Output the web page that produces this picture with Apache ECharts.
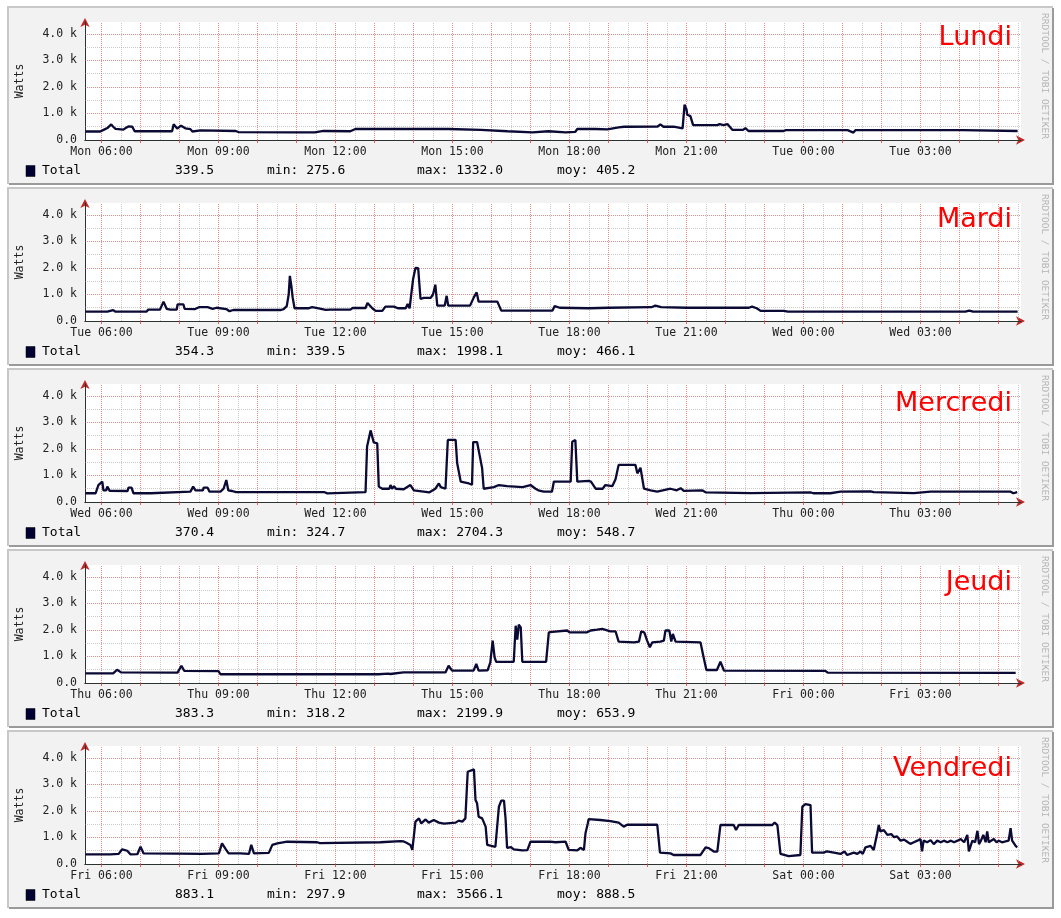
<!DOCTYPE html>
<html><head><meta charset="utf-8">
<script src="https://cdn.jsdelivr.net/npm/echarts@6/dist/echarts.min.js"></script>
<style>html,body{margin:0;padding:0;background:#fff}#c{width:1061px;height:918px}</style>
</head><body><div id="c"></div><script>
// ---------- DATA ----------
const dayTitles = ['Lundi', 'Mardi', 'Mercredi', 'Jeudi', 'Vendredi'];
const dayAbbr = [['Mon', 'Tue'], ['Tue', 'Wed'], ['Wed', 'Thu'], ['Thu', 'Fri'], ['Fri', 'Sat']];
const xLabelHours = [6, 9, 12, 15, 18, 21, 24, 27];
const xLabelTimes = ['06:00', '09:00', '12:00', '15:00', '18:00', '21:00', '00:00', '03:00'];
const yLabelValues = [0, 1000, 2000, 3000, 4000];
const yLabelTexts = ['0.0', '1.0 k', '2.0 k', '3.0 k', '4.0 k'];
const yMinorValues = [500, 1500, 2500, 3500];
const seriesName = 'Total';
const statsLast = ['339.5', '354.3', '370.4', '383.3', '883.1'];
const statsMin = ['275.6', '339.5', '324.7', '318.2', '297.9'];
const statsMax = ['1332.0', '1998.1', '2704.3', '2199.9', '3566.1'];
const statsMoy = ['405.2', '466.1', '548.7', '653.9', '888.5'];

// [hour of day (24+ = next day), watts]
const lundi = [[5.59,320],[5.97,320],[6.08,400],[6.15,450],[6.2,520],[6.25,590],[6.3,500],[6.36,420],[6.56,390],[6.62,450],[6.69,510],[6.79,500],[6.85,330],[7.81,330],[7.85,590],[7.94,430],[8.04,540],[8.15,440],[8.28,410],[8.33,320],[8.54,360],[9.44,340],[9.46,280],[9.51,300],[10.92,290],[10.95,278],[11.0,290],[11.41,290],[11.43,278],[11.47,290],[11.69,340],[12.38,330],[12.42,300],[12.51,415],[14.9,415],[14.95,385],[15.72,385],[15.75,330],[16.41,330],[16.45,285],[17.05,290],[17.1,330],[17.46,330],[17.5,285],[17.9,285],[17.95,300],[18.15,310],[18.2,415],[18.67,415],[18.7,390],[18.97,400],[19.26,480],[19.4,500],[19.45,460],[19.49,500],[20.26,510],[20.33,590],[20.41,500],[20.67,500],[20.72,440],[20.9,440],[20.95,1332],[21.0,1150],[21.02,950],[21.1,900],[21.17,560],[21.79,560],[21.85,600],[21.95,560],[22.05,600],[22.18,380],[22.45,380],[22.51,450],[22.59,340],[23.49,340],[23.55,370],[25.13,370],[25.28,280],[25.33,370],[28.08,370],[28.12,340],[29.49,340]];
const mardi = [[5.59,350],[6.15,350],[6.2,410],[6.3,410],[6.36,350],[7.15,350],[7.2,430],[7.5,430],[7.59,730],[7.67,460],[7.77,430],[7.93,430],[7.95,630],[8.1,630],[8.13,460],[8.4,450],[8.5,520],[8.72,520],[8.77,450],[8.85,460],[8.88,520],[8.95,500],[9.0,450],[9.2,450],[9.28,370],[9.38,415],[10.6,415],[10.67,450],[10.75,560],[10.8,1000],[10.83,1700],[10.87,1300],[10.9,900],[10.95,480],[11.3,480],[11.4,520],[11.6,470],[11.75,420],[11.79,390],[11.87,430],[12.38,430],[12.44,490],[12.77,490],[12.82,680],[12.95,470],[13.03,380],[13.2,380],[13.28,540],[13.5,540],[13.54,590],[13.6,480],[13.8,480],[13.85,640],[13.9,480],[13.95,1100],[13.99,1580],[14.05,1998],[14.12,1990],[14.18,830],[14.26,870],[14.44,870],[14.5,1000],[14.56,1370],[14.61,580],[14.8,580],[14.85,950],[14.89,580],[15.45,580],[15.55,900],[15.62,1080],[15.67,730],[16.15,730],[16.25,390],[17.56,390],[17.62,560],[17.75,500],[18.5,480],[19.0,500],[20.1,520],[20.2,580],[20.35,520],[21.0,500],[22.6,500],[22.68,540],[22.8,480],[22.9,380],[23.5,380],[23.6,350],[28.15,350],[28.25,390],[28.35,350],[29.49,354]];
const mercredi = [[5.59,330],[5.85,330],[5.92,640],[6.02,770],[6.05,440],[6.12,440],[6.15,580],[6.21,420],[6.67,415],[6.69,540],[6.77,540],[6.82,330],[7.26,330],[7.3,390],[8.28,390],[8.35,580],[8.41,440],[8.6,440],[8.62,540],[8.72,540],[8.77,390],[9.05,390],[9.13,500],[9.2,830],[9.25,440],[9.35,415],[9.45,370],[11.62,370],[11.67,325],[11.72,370],[11.79,325],[11.84,370],[12.77,370],[12.81,2090],[12.9,2700],[12.98,2250],[13.07,2210],[13.11,580],[13.2,500],[13.38,500],[13.41,640],[13.45,500],[13.5,600],[13.55,500],[13.75,480],[13.92,640],[14.01,440],[14.26,390],[14.4,360],[14.56,500],[14.65,700],[14.7,560],[14.82,500],[14.88,2340],[15.08,2340],[15.12,1460],[15.21,770],[15.42,700],[15.5,650],[15.53,2260],[15.63,2260],[15.7,1730],[15.76,1270],[15.8,500],[16.06,560],[16.19,640],[16.4,600],[16.8,560],[17.0,640],[17.13,500],[17.2,440],[17.34,390],[17.55,390],[17.6,770],[18.03,770],[18.07,2275],[18.15,2340],[18.2,770],[18.49,800],[18.55,770],[18.67,500],[18.85,500],[18.92,640],[19.1,600],[19.18,860],[19.26,1400],[19.69,1400],[19.74,1080],[19.82,1290],[19.91,500],[20.08,440],[20.25,390],[20.59,500],[20.75,440],[20.85,520],[20.93,420],[21.4,440],[21.49,365],[22.64,335],[24.18,360],[24.25,330],[24.69,330],[24.95,390],[25.72,400],[25.8,370],[26.83,335],[27.26,390],[29.31,390],[29.38,330],[29.48,370]];
const jeudi = [[5.59,360],[6.3,360],[6.4,500],[6.5,400],[7.95,390],[8.05,650],[8.12,460],[9.0,450],[9.05,330],[13.1,330],[13.15,400],[13.35,350],[13.41,340],[13.74,400],[14.82,400],[14.9,650],[14.99,465],[15.54,465],[15.61,720],[15.67,465],[15.9,480],[15.97,780],[16.03,1600],[16.08,970],[16.12,800],[16.57,800],[16.62,2160],[16.66,1640],[16.7,2200],[16.75,2100],[16.79,800],[17.4,800],[17.47,1910],[17.56,1930],[17.94,1980],[18.0,1910],[18.45,1910],[18.54,1980],[18.71,2010],[18.84,2040],[19.05,1950],[19.18,1950],[19.26,1560],[19.65,1530],[19.78,1560],[19.84,1950],[19.92,1900],[19.99,1600],[20.06,1350],[20.12,1530],[20.33,1560],[20.42,1600],[20.46,1980],[20.56,1980],[20.61,1560],[20.65,1850],[20.72,1560],[21.36,1530],[21.43,1030],[21.51,490],[21.78,490],[21.87,800],[21.96,470],[24.56,460],[24.62,390],[29.3,380],[29.35,420],[29.44,383]];
const vendredi = [[5.59,365],[6.23,360],[6.44,380],[6.53,555],[6.66,500],[6.74,365],[6.92,370],[7.0,650],[7.08,400],[7.9,390],[7.94,320],[7.97,390],[8.58,380],[8.62,400],[9.01,400],[9.09,780],[9.18,570],[9.26,400],[9.56,400],[9.6,370],[9.78,380],[9.84,720],[9.91,400],[10.29,420],[10.38,720],[10.51,780],[10.76,840],[11.53,820],[11.6,790],[13.15,820],[13.67,860],[13.75,850],[13.82,800],[13.92,720],[13.97,530],[14.05,1600],[14.14,1720],[14.2,1530],[14.25,1600],[14.31,1680],[14.39,1560],[14.52,1660],[14.65,1560],[14.78,1520],[15.08,1560],[15.16,1635],[15.25,1600],[15.33,1720],[15.39,3480],[15.55,3566],[15.59,2415],[15.63,2290],[15.67,1785],[15.76,1720],[15.85,1410],[15.89,720],[15.93,650],[16.1,650],[16.15,610],[16.19,2160],[16.25,2390],[16.32,2390],[16.36,1720],[16.4,610],[16.5,640],[16.57,555],[16.79,510],[16.92,520],[16.96,500],[17.0,840],[17.38,840],[17.43,780],[17.5,840],[17.64,820],[17.9,840],[17.98,530],[18.2,510],[18.28,610],[18.37,530],[18.41,1160],[18.47,1535],[18.49,1690],[18.79,1660],[19.05,1620],[19.26,1560],[19.39,1410],[19.48,1480],[20.25,1480],[20.32,430],[20.59,400],[20.67,340],[21.36,340],[21.49,630],[21.57,600],[21.7,470],[21.79,470],[21.87,1470],[22.21,1470],[22.27,1280],[22.34,1470],[23.2,1470],[23.26,1560],[23.33,1470],[23.41,380],[23.62,300],[23.92,340],[23.97,2160],[24.05,2260],[24.18,2220],[24.22,430],[24.52,430],[24.6,480],[24.78,430],[24.95,380],[25.05,470],[25.12,340],[25.29,430],[25.38,380],[25.46,470],[25.52,380],[25.59,630],[25.72,680],[25.8,530],[25.89,1160],[25.93,1470],[25.97,1230],[26.06,1280],[26.15,1100],[26.25,1130],[26.32,1010],[26.4,1040],[26.49,880],[26.58,920],[26.66,840],[26.74,760],[26.83,820],[26.92,880],[27.0,940],[27.04,480],[27.08,880],[27.17,820],[27.26,900],[27.34,750],[27.43,880],[27.52,820],[27.6,880],[27.69,820],[27.78,880],[27.86,820],[27.95,880],[28.03,940],[28.12,820],[28.2,1100],[28.24,480],[28.33,880],[28.4,820],[28.46,1250],[28.5,750],[28.55,880],[28.61,1100],[28.67,820],[28.71,1230],[28.75,820],[28.79,880],[28.88,940],[28.95,820],[29.01,880],[29.09,820],[29.18,850],[29.26,880],[29.31,1350],[29.35,880],[29.44,680],[29.48,630]];
const allDays = [lundi, mardi, mercredi, jeudi, vendredi];

// ---------- LAYOUT ----------
const XMIN = 5.5769, XMAX = 29.5769, YMAX = 4450;
const PITCH = 181;
const MONO = "'DejaVu Sans Mono', monospace";
const LINE = '#0a0a35';
const MGRID = 'rgba(235,60,60,0.6)';
const GRID = 'rgba(140,140,140,0.45)';
const ARROW = '#c02828';
const AXIS = '#2a3330';
const titleCY = [37.5, 219.5, 404, 583, 768.5];

const hourTicks = [], halfTicks = [];
for (let h = Math.ceil(XMIN); h <= XMAX; h++) hourTicks.push(h);
for (let h = Math.ceil(XMIN - 0.5) + 0.5; h <= XMAX; h++) halfTicks.push(h);

const gridLines = [];
halfTicks.forEach(h => gridLines.push({xAxis: h, lineStyle: {color: GRID, width: 1, type: [1, 1]}}));
yMinorValues.forEach(v => gridLines.push({yAxis: v, lineStyle: {color: GRID, width: 1, type: [1, 1]}}));
hourTicks.forEach(h => gridLines.push({xAxis: h, lineStyle: {color: MGRID, width: 1, type: [1, 1]}}));
yLabelValues.filter(v => v > 0).forEach(v => gridLines.push({yAxis: v, lineStyle: {color: MGRID, width: 1, type: [1, 1]}}));

const grids = [], xAxes = [], yAxes = [], series = [], graphics = [];
for (let i = 0; i < 5; i++) {
  const top = 7 + PITCH * i;
  grids.push({left: 85, top: top + 15, width: 936, height: 118, show: true, backgroundColor: '#fff', borderWidth: 0, z: 0});
  xAxes.push({
    type: 'value', gridIndex: i, position: 'bottom', min: XMIN, max: XMAX, z: 3,
    axisLine: {show: true, lineStyle: {color: AXIS, width: 1}},
    axisTick: {show: true, customValues: hourTicks, length: 3, lineStyle: {color: 'rgba(220,60,60,0.8)'}},
    axisLabel: {show: true, customValues: xLabelHours, margin: 6, color: '#222', fontFamily: MONO, fontSize: 11.5,
      formatter: (v) => { const k = xLabelHours.indexOf(Math.round(v)); return dayAbbr[i][v >= 24 ? 1 : 0] + ' ' + xLabelTimes[k]; }},
    splitLine: {show: false}
  });
  xAxes.push({
    type: 'value', gridIndex: i, position: 'bottom', min: XMIN, max: XMAX, z: 1,
    axisLine: {show: true, symbol: ['none', 'arrow'], symbolSize: [7, 9], symbolOffset: [0, 4], lineStyle: {color: ARROW, width: 1}},
    axisTick: {show: false}, axisLabel: {show: false}, splitLine: {show: false}
  });
  yAxes.push({
    type: 'value', gridIndex: i, position: 'left', min: 0, max: YMAX, z: 3,
    name: 'Watts', nameLocation: 'middle', nameGap: 59,
    nameTextStyle: {fontFamily: MONO, fontSize: 11.5, color: '#222'},
    axisLine: {show: true, lineStyle: {color: AXIS, width: 1}},
    axisTick: {show: false, customValues: yLabelValues},
    axisLabel: {show: true, customValues: yLabelValues, margin: 8, color: '#222', fontFamily: MONO, fontSize: 11.5,
      formatter: (v) => yLabelTexts[yLabelValues.indexOf(Math.round(v))]},
    splitLine: {show: false}
  });
  yAxes.push({
    type: 'value', gridIndex: i, position: 'left', min: 0, max: YMAX, z: 1,
    axisLine: {show: true, symbol: ['none', 'arrow'], symbolSize: [7, 9], symbolOffset: [0, 4], lineStyle: {color: ARROW, width: 1}},
    axisTick: {show: false}, axisLabel: {show: false}, splitLine: {show: false}
  });
  series.push({
    type: 'line', xAxisIndex: 2 * i, yAxisIndex: 2 * i, data: [[XMIN, 0]], showSymbol: false, symbol: 'none',
    lineStyle: {opacity: 0}, z: 1, silent: true, animation: false, tooltip: {show: false},
    markLine: {silent: true, symbol: ['none', 'none'], label: {show: false}, animation: false, emphasis: {disabled: true}, data: gridLines}
  });
  series.push({
    type: 'line', name: seriesName, xAxisIndex: 2 * i, yAxisIndex: 2 * i,
    data: allDays[i], showSymbol: false, symbol: 'none', smooth: false,
    lineStyle: {color: LINE, width: 2.3}, z: 5, animation: false
  });

  graphics.push({type: 'rect', z: -20, silent: true, shape: {x: 8, y: top, width: 1045, height: 177}, style: {fill: '#f2f2f2'}});
  graphics.push({type: 'polyline', z: -19, silent: true, shape: {points: [[8, top + 177], [8, top], [1053, top]]}, style: {stroke: '#c8c8c8', lineWidth: 2, fill: null}});
  graphics.push({type: 'polyline', z: -19, silent: true, shape: {points: [[9, top + 177], [1053, top + 177], [1053, top + 1]]}, style: {stroke: '#9a9a9a', lineWidth: 2, fill: null}});
  const ly = top + 163.5;
  graphics.push({type: 'rect', z: 10, shape: {x: 26, y: top + 158.5, width: 9, height: 11}, style: {fill: '#000033', stroke: '#000', lineWidth: 0.5}});
  const txt = (x, s) => ({type: 'text', z: 10, x: x, y: ly, style: {text: s, fill: '#000', font: '13px ' + MONO, textAlign: 'left', textVerticalAlign: 'middle', align: 'left', verticalAlign: 'middle'}});
  graphics.push(txt(42, seriesName));
  graphics.push(txt(175, statsLast[i]));
  graphics.push(txt(267, 'min: ' + statsMin[i]));
  graphics.push(txt(417, 'max: ' + statsMax[i]));
  graphics.push(txt(557, 'moy: ' + statsMoy[i]));
  graphics.push({type: 'text', z: 10, x: 1012, y: titleCY[i], style: {text: dayTitles[i], fill: '#ff0000', font: "27px 'DejaVu Sans', sans-serif", textAlign: 'right', align: 'right', textVerticalAlign: 'middle', verticalAlign: 'middle'}});
  graphics.push({type: 'text', z: 10, x: 1044, y: top + 69, rotation: -Math.PI / 2, style: {text: 'RRDTOOL / TOBI OETIKER', fill: '#b4b4b4', font: '9.5px ' + MONO, textAlign: 'center', align: 'center', textVerticalAlign: 'middle', verticalAlign: 'middle'}});
}

const chart = echarts.init(document.getElementById('c'), null, {renderer: 'canvas'});
chart.setOption({
  backgroundColor: '#ffffff',
  animation: false,
  grid: grids, xAxis: xAxes, yAxis: yAxes, series: series,
  graphic: {elements: graphics}
});
</script></body></html>
